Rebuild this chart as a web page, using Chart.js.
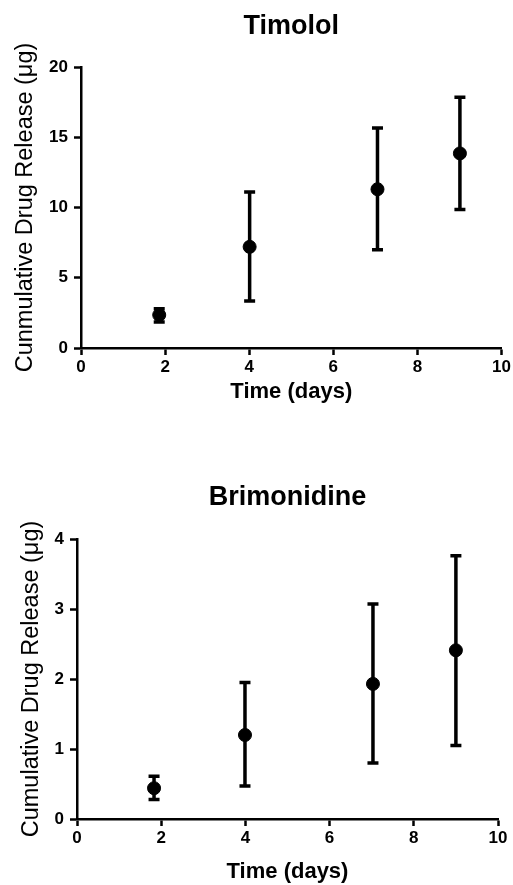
<!DOCTYPE html>
<html>
<head>
<meta charset="utf-8">
<script src="https://cdn.jsdelivr.net/npm/chart.js@4.4.1/dist/chart.umd.min.js"></script>
<style>
  html, body { margin: 0; padding: 0; background: #fff; }
  body { width: 513px; height: 885px; position: relative; overflow: hidden; }
  canvas { position: absolute; left: 0; }
  #timolol { top: 0; }
  #brimonidine { top: 440px; }
</style>
</head>
<body>
<canvas id="timolol" width="513" height="440"></canvas>
<canvas id="brimonidine" width="513" height="445"></canvas>
<script>
// ---- Data ----
const TIMOLOL_DAYS  = [1.86, 4.01, 7.05, 9.01];
const TIMOLOL_MEAN  = [2.35, 7.2, 11.3, 13.85];
const TIMOLOL_UPPER = [2.8, 11.1, 15.65, 17.85];
const TIMOLOL_LOWER = [1.85, 3.35, 7.0, 9.85];

const BRIMO_DAYS  = [1.83, 3.99, 7.03, 9.0];
const BRIMO_MEAN  = [0.44, 1.2, 1.93, 2.41];
const BRIMO_UPPER = [0.61, 1.95, 3.07, 3.76];
const BRIMO_LOWER = [0.28, 0.47, 0.8, 1.05];

const X_TICKS = [0, 2, 4, 6, 8, 10];
const TIMOLOL_Y_TICKS = [0, 5, 10, 15, 20];
const BRIMO_Y_TICKS = [0, 1, 2, 3, 4];

const FONT = "'Liberation Sans', Arial, Helvetica, sans-serif";
Chart.defaults.font.family = FONT;
Chart.defaults.color = '#000';

// Error bars drawn under the points, through the chart's own scales
const errorBars = {
  id: 'errorBars',
  beforeDatasetsDraw(chart, args, opts) {
    const { ctx, scales: { x, y } } = chart;
    const ds = chart.data.datasets[0];
    ctx.save();
    ctx.strokeStyle = '#000';
    ctx.lineWidth = 3.5;
    ctx.lineCap = 'butt';
    ds.data.forEach((p, i) => {
      const px = x.getPixelForValue(p.x);
      const top = y.getPixelForValue(opts.upper[i]);
      const bot = y.getPixelForValue(opts.lower[i]);
      ctx.beginPath();
      ctx.moveTo(px, top); ctx.lineTo(px, bot);
      ctx.moveTo(px - 5.5, top); ctx.lineTo(px + 5.5, top);
      ctx.moveTo(px - 5.5, bot); ctx.lineTo(px + 5.5, bot);
      ctx.stroke();
    });
    ctx.restore();
  }
};

function makeChart(id, cfg) {
  const pts = cfg.days.map((d, i) => ({ x: d, y: cfg.mean[i] }));
  return new Chart(document.getElementById(id), {
    type: 'scatter',
    data: {
      datasets: [{
        data: pts,
        backgroundColor: '#000',
        borderColor: '#000',
        pointRadius: 6.5,
        pointHoverRadius: 6.5,
        clip: false
      }]
    },
    plugins: [errorBars],
    options: {
      responsive: false,
      devicePixelRatio: 1,
      animation: false,
      events: [],
      layout: { padding: { right: cfg.padRight } },
      plugins: {
        legend: { display: false },
        tooltip: { enabled: false },
        errorBars: { upper: cfg.upper, lower: cfg.lower },
        title: {
          display: true,
          text: cfg.title,
          fullSize: false,
          color: '#000',
          font: { size: 27, weight: 'bold', family: FONT },
          padding: { top: cfg.titleTop, bottom: cfg.titleBottom }
        }
      },
      scales: {
        x: {
          type: 'linear',
          min: 0, max: 10,
          afterBuildTicks: s => { s.ticks = X_TICKS.map(v => ({ value: v })); },
          afterFit: s => { s.height = cfg.xHeight; },
          ticks: { color: '#000', font: { size: 17, weight: 'bold' }, padding: 2 },
          grid: { drawOnChartArea: false, drawTicks: true, tickLength: 7, tickWidth: 2.5, color: '#000' },
          border: { display: true, color: '#000', width: 2.5 },
          title: {
            display: true, text: 'Time (days)', color: '#000',
            font: { size: 22, weight: 'bold' },
            padding: { top: 0, bottom: cfg.xTitleBottom }
          }
        },
        y: {
          type: 'linear',
          min: 0, max: cfg.yTicks[cfg.yTicks.length - 1],
          afterBuildTicks: s => { s.ticks = cfg.yTicks.map(v => ({ value: v })); },
          afterFit: s => { s.width = cfg.yWidth; },
          ticks: { color: '#000', font: { size: 17, weight: 'bold' }, padding: 6 },
          grid: { drawOnChartArea: false, drawTicks: true, tickLength: 7, tickWidth: 2.5, color: '#000' },
          border: { display: true, color: '#000', width: 2.5 },
          title: {
            display: true, text: cfg.yTitle, color: '#000',
            font: { size: 23.5, weight: 'normal' },
            padding: { top: cfg.yTitleTop, bottom: 0 }
          }
        }
      }
    }
  });
}

makeChart('timolol', {
  title: 'Timolol',
  yTitle: 'Cunmulative Drug Release (\u03bcg)',
  days: TIMOLOL_DAYS, mean: TIMOLOL_MEAN, upper: TIMOLOL_UPPER, lower: TIMOLOL_LOWER,
  yTicks: TIMOLOL_Y_TICKS,
  padRight: 11, titleTop: 10, titleBottom: 24.6,
  xHeight: 92, xTitleBottom: 35, yWidth: 81, yTitleTop: 11
});

makeChart('brimonidine', {
  title: 'Brimonidine',
  yTitle: 'Cumulative Drug Release (\u03bcg)',
  days: BRIMO_DAYS, mean: BRIMO_MEAN, upper: BRIMO_UPPER, lower: BRIMO_LOWER,
  yTicks: BRIMO_Y_TICKS,
  padRight: 15, titleTop: 41.3, titleBottom: 25.3,
  xHeight: 66, xTitleBottom: 0, yWidth: 77, yTitleTop: 17
});
</script>
</body>
</html>
